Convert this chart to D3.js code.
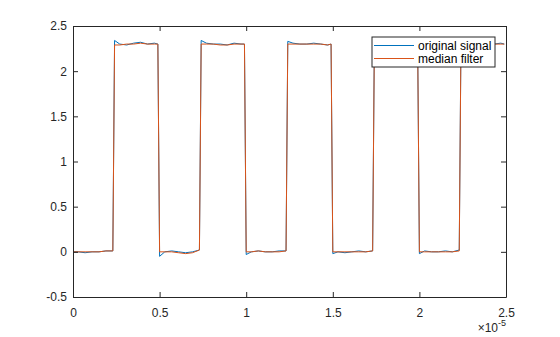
<!DOCTYPE html>
<html>
<head>
<meta charset="utf-8">
<script src="https://cdn.jsdelivr.net/npm/d3@7"></script>
<style>
  body { margin: 0; background: #fff; }
  svg { display: block; font-family: "Liberation Sans", Arial, sans-serif; }
  .tick text { font-size: 12px; fill: #262626; }
</style>
</head>
<body>
<div id="chart"></div>
<script>
// time in units of 1e-5 s
const t = [
    0, 0.03, 0.07, 0.11, 0.15, 0.19, 0.23, 0.24, 0.27, 0.31, 0.35, 0.39, 0.43, 0.47, 0.49,
    0.50, 0.53, 0.57, 0.61, 0.65, 0.69, 0.73, 0.74, 0.77, 0.81, 0.85, 0.89, 0.93, 0.97, 0.99,
    1.00, 1.03, 1.07, 1.11, 1.15, 1.19, 1.23, 1.24, 1.27, 1.31, 1.35, 1.39, 1.43, 1.47, 1.49,
    1.50, 1.53, 1.57, 1.61, 1.65, 1.69, 1.73, 1.74, 1.77, 1.81, 1.85, 1.89, 1.93, 1.97, 1.99,
    2.00, 2.03, 2.07, 2.11, 2.15, 2.19, 2.23, 2.24, 2.27, 2.31, 2.35, 2.39, 2.43, 2.47, 2.49
];
const original = [
    0.00, 0.00, -0.01, 0.00, 0.00, 0.01, 0.01, 2.34, 2.30, 2.29, 2.31, 2.32, 2.30, 2.31, 2.30,
    -0.05, 0.00, 0.01, 0.00, -0.01, 0.00, 0.02, 2.34, 2.31, 2.30, 2.30, 2.29, 2.31, 2.30, 2.30,
    -0.03, 0.00, 0.01, 0.00, 0.00, 0.01, 0.01, 2.33, 2.31, 2.30, 2.30, 2.31, 2.30, 2.29, 2.30,
    -0.02, 0.00, -0.01, 0.00, 0.01, 0.00, 0.01, 2.33, 2.30, 2.31, 2.30, 2.30, 2.30, 2.31, 2.30,
    -0.02, 0.01, 0.00, 0.00, 0.01, 0.00, 0.02, 2.33, 2.30, 2.31, 2.30, 2.30, 2.30, 2.31, 2.30
];
const median = [
    0.00, 0.00, 0.00, 0.00, 0.00, 0.01, 0.01, 2.29, 2.29, 2.30, 2.30, 2.31, 2.30, 2.30, 2.30,
    0.00, 0.00, 0.00, -0.01, -0.02, -0.01, 0.02, 2.30, 2.30, 2.30, 2.29, 2.29, 2.30, 2.30, 2.30,
    0.00, 0.00, 0.01, 0.00, 0.00, 0.00, 0.01, 2.30, 2.30, 2.30, 2.30, 2.30, 2.30, 2.29, 2.30,
    0.00, 0.00, 0.00, 0.00, 0.00, 0.00, 0.01, 2.30, 2.30, 2.30, 2.30, 2.30, 2.30, 2.30, 2.30,
    0.00, 0.00, 0.00, 0.00, 0.00, 0.00, 0.01, 2.30, 2.30, 2.30, 2.30, 2.30, 2.30, 2.30, 2.30
];
const xTicks = [0, 0.5, 1, 1.5, 2, 2.5];
const yTicks = [-0.5, 0, 0.5, 1, 1.5, 2, 2.5];
const seriesNames = ["original signal", "median filter"];
const seriesColors = ["#0072BD", "#D95319"];

const W = 560, H = 337;
const margin = { top: 26, right: 54, bottom: 40, left: 73 };
const width = W - margin.left - margin.right;
const height = H - margin.top - margin.bottom;

const svg = d3.select("#chart").append("svg")
    .attr("width", W)
    .attr("height", H);

const g = svg.append("g")
    .attr("transform", `translate(${margin.left},${margin.top})`);

const x = d3.scaleLinear().domain([0, 2.5]).range([0, width]);
const y = d3.scaleLinear().domain([-0.5, 2.5]).range([height, 0]);

// clip lines to the axes box
g.append("clipPath").attr("id", "clip")
    .append("rect").attr("width", width).attr("height", height);

const line = d3.line()
    .x((d, i) => x(t[i]))
    .y(d => y(d));

[original, median].forEach((vals, k) => {
    g.append("path")
        .datum(vals)
        .attr("clip-path", "url(#clip)")
        .attr("fill", "none")
        .attr("stroke", seriesColors[k])
        .attr("stroke-width", 1)
        .attr("d", line);
});

// axes, MATLAB style: inward ticks on all four sides
const tickLen = 5;
const fmt = d => String(d);

const xAxis = g.append("g")
    .attr("transform", `translate(0,${height})`)
    .call(d3.axisBottom(x).tickValues(xTicks).tickFormat(fmt).tickSize(-tickLen).tickPadding(11).tickSizeOuter(0));
const xTop = g.append("g")
    .call(d3.axisTop(x).tickValues(xTicks).tickFormat("").tickSize(-tickLen).tickSizeOuter(0));
const yAxis = g.append("g")
    .call(d3.axisLeft(y).tickValues(yTicks).tickFormat(fmt).tickSize(-tickLen).tickPadding(6).tickSizeOuter(0));
const yRight = g.append("g")
    .attr("transform", `translate(${width},0)`)
    .call(d3.axisRight(y).tickValues(yTicks).tickFormat("").tickSize(-tickLen).tickSizeOuter(0));

[xAxis, xTop, yAxis, yRight].forEach(a => {
    a.selectAll(".domain").attr("stroke", "#262626");
    a.selectAll(".tick line").attr("stroke", "#262626");
});

// exponent label
const expo = g.append("text")
    .attr("x", width)
    .attr("y", height + 35)
    .attr("text-anchor", "end")
    .style("font-size", "12px")
    .style("fill", "#262626");
expo.append("tspan").text("×10");
expo.append("tspan").attr("dy", -6).style("font-size", "9px").text("-5");

// legend
const legend = g.append("g")
    .attr("transform", `translate(${299},${11})`);
legend.append("rect")
    .attr("width", 123)
    .attr("height", 30)
    .attr("fill", "#fff")
    .attr("stroke", "#262626")
    .attr("stroke-width", 1);
seriesNames.forEach((name, k) => {
    const row = legend.append("g").attr("transform", `translate(0,${8.5 + k * 13})`);
    row.append("line")
        .attr("x1", 2).attr("x2", 42)
        .attr("stroke", seriesColors[k])
        .attr("stroke-width", 1);
    row.append("text")
        .attr("x", 46)
        .attr("dy", "0.35em")
        .style("font-size", "12px")
        .style("fill", "#000")
        .text(name);
});
</script>
</body>
</html>
